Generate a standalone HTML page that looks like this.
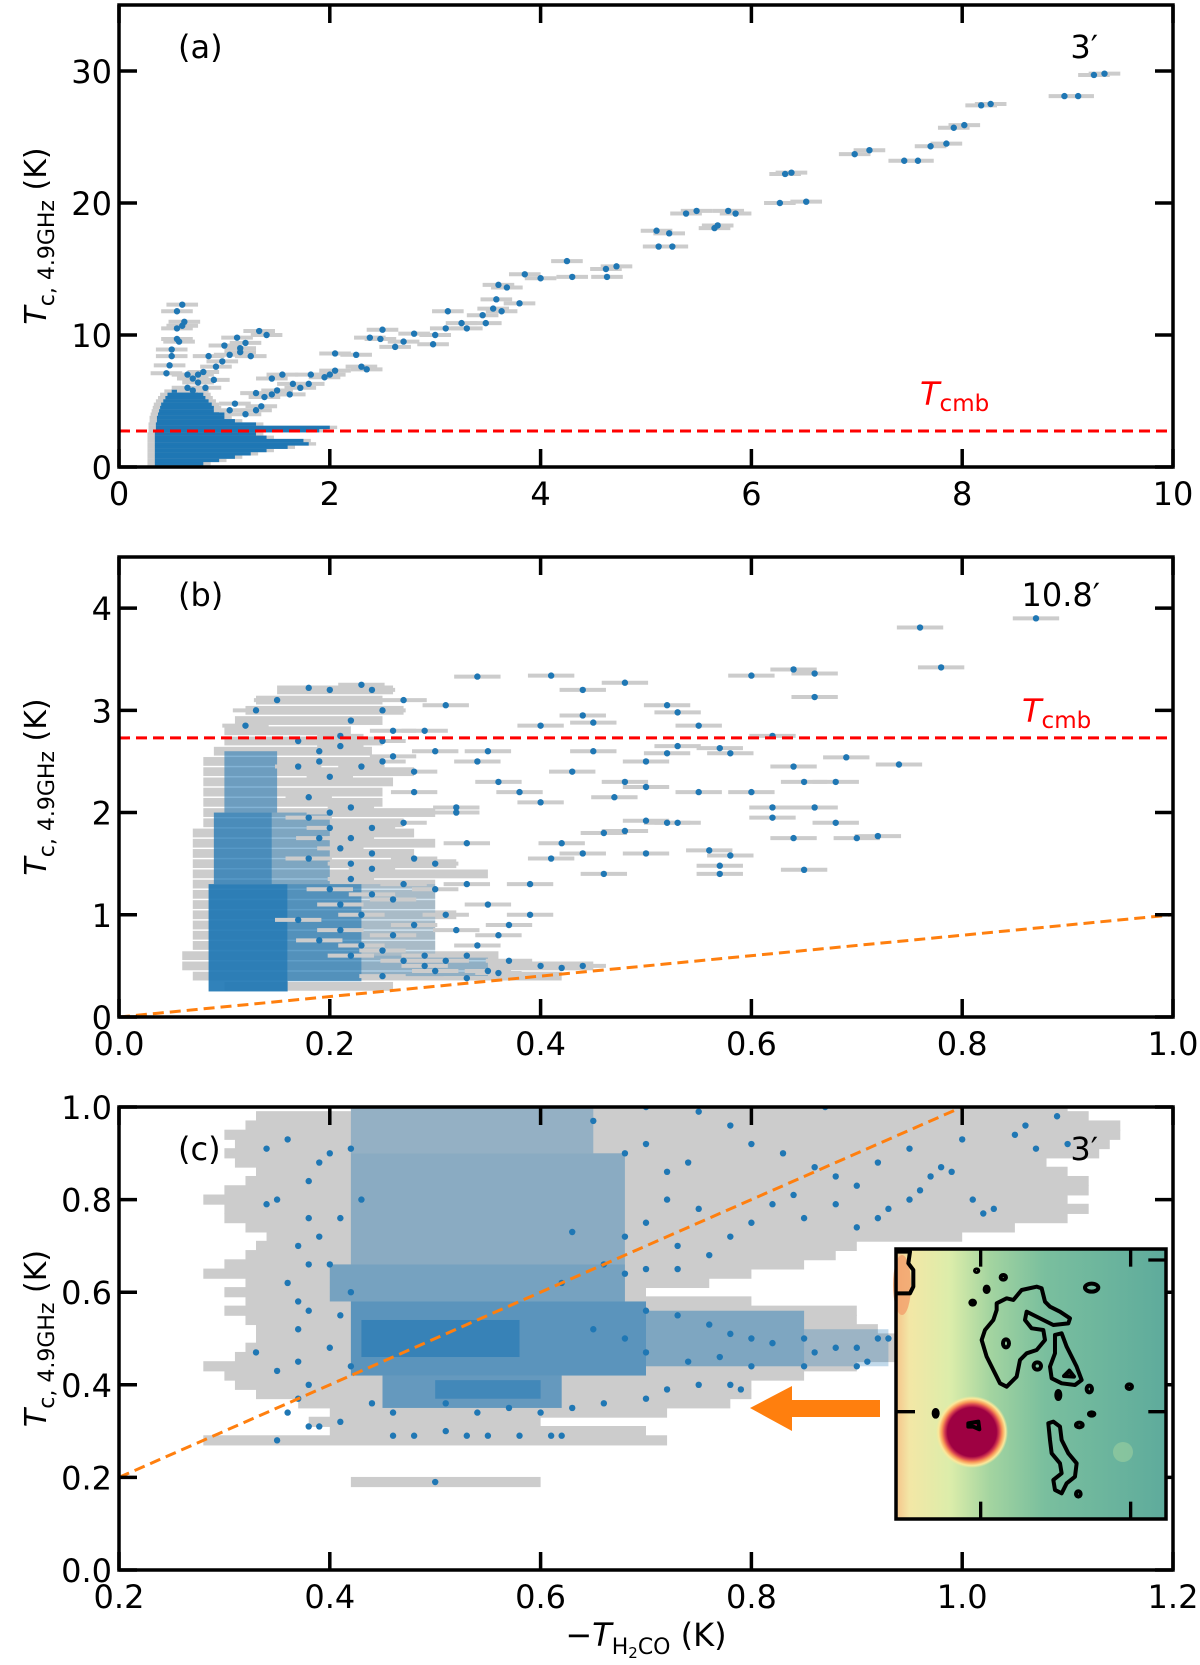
<!DOCTYPE html>
<html><head><meta charset="utf-8">
<style>
html,body{margin:0;padding:0;background:#fff;}
svg{display:block;font-family:"DejaVu Sans","Liberation Sans",sans-serif;}
</style></head>
<body>
<svg id="fig" width="1200" height="1665" viewBox="0 0 1200 1665" xmlns="http://www.w3.org/2000/svg">
<defs>
<linearGradient id="insetBg" x1="0" y1="0" x2="1" y2="0">
<stop offset="0" stop-color="#f4c48a"/><stop offset="0.05" stop-color="#f3e7a6"/><stop offset="0.2" stop-color="#dcedaa"/><stop offset="0.35" stop-color="#a3d4a0"/><stop offset="0.55" stop-color="#7abf9e"/><stop offset="1" stop-color="#5eab9c"/>
</linearGradient>
<radialGradient id="halo"><stop offset="0.68" stop-color="#9e0142"/><stop offset="0.76" stop-color="#d53e4f"/><stop offset="0.84" stop-color="#f99a57"/><stop offset="0.93" stop-color="#fbe89a"/><stop offset="1" stop-color="#fbe89a" stop-opacity="0"/></radialGradient>
</defs>
<g id="layer"></g>
</svg>
<script>
// ---- Panel (a) data ----
const aPointsX=[9.35,9.25,9.1,8.97,8.27,8.18,8.02,7.92,7.85,7.7,7.58,7.45,7.12,6.98,6.52,6.27,6.38,6.32,5.85,5.78,5.65,5.68,5.48,5.38,5.25,5.12,5.22,5.1,4.72,4.62,4.63,4.3,4.25,4.0,3.85,3.8,3.68,3.6,3.63,3.55,3.58,3.45,3.48,3.3,3.25,3.1,3.12,3.0,2.98,2.8,2.62,2.7,2.5,2.48,2.38,2.25,2.05,2.35,2.3,2.05,2.0,1.95,1.82,1.8,1.72,1.65,1.62,1.5,1.45,1.55,1.45,1.38,1.35,1.3,1.3,1.2,1.1,1.05,1.4,1.33,1.25,1.2,1.15,1.12,1.15,1.05,0.98,1.0,0.85,0.92,0.8,0.75,0.9,0.82,0.6,0.55,0.62,0.6,0.55,0.55,0.57,0.5,0.5,0.48,0.45,0.65,0.7,0.75,0.7,0.65];
const aPointsY=[29.8,29.7,28.1,28.1,27.5,27.4,25.9,25.7,24.5,24.3,23.2,23.2,24.0,23.7,20.1,20.0,22.3,22.2,19.2,19.4,18.1,18.3,19.4,19.2,16.7,16.7,17.7,17.9,15.2,15.0,14.4,14.4,15.6,14.3,14.6,12.4,13.6,13.8,11.8,12.0,12.7,11.5,10.9,10.5,10.9,10.5,11.8,10.0,9.3,10.1,9.1,9.5,10.4,9.7,9.8,8.5,8.6,7.4,7.6,7.3,7.0,6.8,7.0,6.3,6.0,6.3,5.5,5.8,5.5,7.0,6.7,5.3,4.6,5.6,4.3,4.0,4.8,4.3,10.0,10.3,8.4,9.4,9.0,9.8,8.7,8.5,8.0,9.2,8.4,7.6,7.2,7.0,6.6,6.0,12.3,11.8,11.0,10.7,10.5,9.7,9.5,8.9,8.4,7.7,7.1,7.0,6.7,6.4,5.8,6.0];
const aErr=0.15;
const aBandY=[0.25,0.5,0.75,1.0,1.25,1.5,1.75,2.0,2.25,2.5,2.75,3.0,3.25,3.5,3.75,4.0,4.25,4.5,4.75,5.0,5.25,5.5,5.75];
const aBandMin=[0.34,0.34,0.34,0.34,0.34,0.34,0.34,0.34,0.34,0.34,0.35,0.35,0.35,0.36,0.36,0.37,0.38,0.39,0.4,0.42,0.44,0.46,0.5];
const aBandMax=[0.8,0.95,1.1,1.25,1.4,1.6,1.8,1.75,1.4,1.3,1.9,2.0,1.3,1.1,1.0,1.0,0.95,0.9,0.88,0.85,0.82,0.8,0.75];
const aXTicks=[0,2,4,6,8,10], aYTicks=[0,10,20,30];
// ---- Panel (b) data ----
const bPointsX=[0.87,0.76,0.78,0.64,0.66,0.66,0.6,0.52,0.53,0.48,0.44,0.41,0.34,0.44,0.45,0.55,0.62,0.57,0.53,0.52,0.58,0.64,0.65,0.68,0.69,0.74,0.66,0.62,0.68,0.64,0.7,0.72,0.65,0.58,0.56,0.57,0.57,0.52,0.5,0.48,0.46,0.44,0.42,0.41,0.4,0.38,0.36,0.34,0.33,0.3,0.32,0.28,0.27,0.26,0.25,0.24,0.23,0.22,0.2,0.18,0.15,0.13,0.12,0.3,0.35,0.37,0.4,0.42,0.44,0.36,0.3,0.26,0.24,0.22,0.22,0.2,0.25,0.28,0.46,0.5,0.48,0.5,0.29,0.31,0.27,0.21,0.19,0.17,0.23,0.21,0.33,0.39,0.43,0.27,0.31,0.29,0.25,0.33,0.55,0.6,0.62,0.39,0.36,0.47,0.5,0.53,0.45,0.4,0.35,0.32,0.18,0.19,0.2,0.21,0.22,0.24,0.26,0.28,0.3,0.32,0.34,0.18,0.2,0.22,0.24,0.26,0.28,0.17,0.19,0.21,0.23,0.25,0.27,0.29,0.31,0.33,0.35,0.37,0.17,0.19,0.21,0.23,0.25,0.18,0.2,0.22,0.24];
const bPointsY=[3.9,3.81,3.42,3.4,3.36,3.13,3.34,3.05,2.98,3.27,3.2,3.34,3.33,2.95,2.88,2.85,2.75,2.63,2.65,2.58,2.58,2.45,2.3,2.3,2.54,2.47,2.05,1.95,1.9,1.75,1.75,1.77,1.44,1.58,1.63,1.48,1.4,1.9,1.92,1.82,1.8,1.6,1.7,1.55,2.1,2.2,2.3,2.5,1.3,1.5,2.0,2.4,1.9,2.8,3.0,3.2,3.25,2.9,3.2,3.22,3.1,3.0,2.85,2.6,1.1,0.9,0.5,0.48,0.5,0.43,0.45,0.8,1.2,1.5,0.6,2.0,2.5,0.9,1.4,1.6,2.3,2.5,2.8,3.05,3.1,2.65,2.5,2.7,1.0,1.1,1.7,1.3,2.4,1.3,1.0,0.6,0.4,0.38,2.2,2.2,2.05,1.0,0.8,2.15,2.25,1.9,2.6,2.85,2.6,2.05,1.55,1.75,1.25,1.65,1.35,1.45,1.15,1.55,1.25,0.85,0.7,2.15,2.35,2.05,1.85,2.55,2.2,0.95,0.75,0.85,0.7,0.65,0.55,0.5,0.55,0.6,0.45,0.55,2.45,2.6,2.75,2.45,2.7,1.95,1.85,1.75,1.6];
const bErr=0.022;
const bGrayY=[0.3,0.4,0.5,0.6,0.7,0.8,0.9,1.0,1.1,1.2,1.3,1.4,1.5,1.6,1.7,1.8,1.9,2.0,2.1,2.2,2.3,2.4,2.5,2.6,2.7,2.8,2.9,3.0,3.1,3.2];
const bGrayMin=[0.1,0.07,0.06,0.06,0.07,0.07,0.07,0.07,0.07,0.07,0.07,0.07,0.07,0.07,0.07,0.07,0.08,0.08,0.08,0.08,0.08,0.08,0.08,0.09,0.1,0.1,0.11,0.12,0.13,0.15];
const bGrayMax=[0.26,0.42,0.45,0.36,0.3,0.3,0.3,0.32,0.3,0.3,0.3,0.35,0.32,0.28,0.3,0.28,0.27,0.3,0.25,0.25,0.26,0.28,0.25,0.24,0.25,0.22,0.25,0.27,0.25,0.26];
const bDenseY0=[0.25,1.3,2.0,0.35,0.4,1.3,0.6];
const bDenseY1=[1.3,2.0,2.6,1.3,0.6,2.0,1.3];
const bDenseX0=[0.085,0.09,0.1,0.16,0.23,0.145,0.23];
const bDenseX1=[0.16,0.145,0.15,0.23,0.35,0.2,0.3];
const bDenseOp=[0.92,0.75,0.55,0.7,0.35,0.45,0.2];
const bXTicks=[0,0.2,0.4,0.6,0.8,1.0], bYTicks=[0,1,2,3,4];
// ---- Panel (c) data ----
const cGrayY=[1.0,0.98,0.96,0.94,0.92,0.9,0.88,0.86,0.84,0.82,0.8,0.78,0.76,0.74,0.72,0.7,0.68,0.66,0.64,0.62,0.6,0.58,0.56,0.54,0.52,0.5,0.48,0.46,0.44,0.42,0.4,0.38,0.36,0.34,0.32,0.3,0.28,0.19];
const cGrayMin=[0.42,0.33,0.32,0.3,0.31,0.3,0.31,0.33,0.32,0.3,0.28,0.3,0.3,0.32,0.34,0.33,0.32,0.3,0.28,0.32,0.3,0.32,0.3,0.32,0.33,0.33,0.32,0.31,0.28,0.3,0.31,0.33,0.37,0.4,0.38,0.4,0.28,0.42];
const cGrayMax=[1.1,1.12,1.15,1.15,1.14,1.13,1.08,1.1,1.12,1.12,1.1,1.12,1.1,1.05,1.0,0.9,0.88,0.85,0.8,0.76,0.7,0.8,0.9,0.9,0.92,0.95,0.95,0.95,0.9,0.85,0.8,0.8,0.78,0.72,0.6,0.7,0.72,0.6];
const cDenseY0=[0.35,0.42,0.46,0.44,0.44,0.58,0.66,0.9,0.37];
const cDenseY1=[0.42,0.58,0.54,0.56,0.52,0.66,0.9,1.0,0.41];
const cDenseX0=[0.45,0.42,0.43,0.7,0.85,0.4,0.42,0.42,0.5];
const cDenseX1=[0.62,0.7,0.58,0.85,0.93,0.68,0.68,0.65,0.6];
const cDenseOp=[0.6,0.65,0.6,0.45,0.28,0.5,0.38,0.32,0.5];
const cPointsX=[0.5,0.35,0.46,0.48,0.51,0.53,0.55,0.58,0.61,0.62,0.38,0.39,0.41,0.36,0.37,0.38,0.37,0.35,0.33,0.37,0.38,0.37,0.36,0.38,0.37,0.39,0.38,0.34,0.35,0.38,0.39,0.34,0.36,0.4,0.42,0.43,0.41,0.4,0.42,0.41,0.4,0.42,0.44,0.46,0.65,0.68,0.7,0.72,0.74,0.75,0.72,0.7,0.68,0.73,0.76,0.78,0.8,0.82,0.84,0.86,0.88,0.9,0.88,0.85,0.9,0.93,0.95,0.96,0.97,0.98,0.95,0.92,1.0,1.02,1.03,1.05,1.06,1.09,1.1,1.07,0.99,1.01,0.83,0.8,0.78,0.75,0.7,0.87,0.92,0.63,0.66,0.7,0.73,0.68,0.62,0.7,0.73,0.76,0.78,0.8,0.82,0.85,0.86,0.88,0.9,0.92,0.93,0.9,0.91,0.85,0.8,0.78,0.79,0.75,0.72,0.7,0.66,0.63,0.6,0.57,0.54,0.51,0.65,0.68,0.7,0.74,0.77];
const cPointsY=[0.19,0.28,0.29,0.29,0.3,0.29,0.29,0.29,0.29,0.29,0.31,0.31,0.32,0.34,0.37,0.4,0.45,0.43,0.47,0.52,0.56,0.58,0.62,0.66,0.7,0.72,0.76,0.79,0.8,0.84,0.88,0.91,0.93,0.9,0.91,0.8,0.76,0.66,0.6,0.55,0.48,0.44,0.36,0.34,0.97,0.9,0.92,0.86,0.88,0.78,0.8,0.75,0.72,0.7,0.68,0.72,0.75,0.79,0.81,0.87,0.85,0.83,0.79,0.76,0.74,0.78,0.8,0.82,0.85,0.87,0.91,0.88,0.93,0.77,0.78,0.94,0.96,0.98,0.92,0.91,0.86,0.8,0.9,0.92,0.96,0.99,1.0,1.0,0.76,0.73,0.66,0.65,0.65,0.64,0.62,0.56,0.55,0.53,0.51,0.5,0.49,0.5,0.47,0.48,0.48,0.5,0.5,0.44,0.45,0.44,0.44,0.4,0.39,0.4,0.39,0.37,0.36,0.35,0.34,0.35,0.34,0.36,0.52,0.5,0.47,0.45,0.46];
const cXTicks=[0.2,0.4,0.6,0.8,1.0,1.2], cYTicks=[0.0,0.2,0.4,0.6,0.8,1.0];

const NS="http://www.w3.org/2000/svg";
const layer=document.getElementById('layer');
function mk(tag,attrs,parent){const e=document.createElementNS(NS,tag);for(const k in attrs)e.setAttribute(k,attrs[k]);(parent||layer).appendChild(e);return e;}
const L=119,R=1173;
function scales(xmin,xmax,ymin,ymax,top,bot){return{x:v=>L+(v-xmin)/(xmax-xmin)*(R-L),y:v=>bot-(v-ymin)/(ymax-ymin)*(bot-top),top:top,bot:bot};}
const A=scales(0,10,0,35,5,467), B=scales(0,1,0,4.5,557,1017), C=scales(0.2,1.2,0,1,1107,1570);

function clip(id,s){const cp=mk('clipPath',{id:id},document.querySelector('defs'));mk('rect',{x:L,y:s.top,width:R-L,height:s.bot-s.top},cp);}
clip('ca',A);clip('cb',B);clip('cc',C);

function points(s,xs,ys,err,clipId,prefix){
  const g=mk('g',{'clip-path':'url(#'+clipId+')'});
  
  
  if(err>0){for(let i=0;i<xs.length;i++){
    const eb=mk('line',{x1:s.x(xs[i]-err),x2:s.x(xs[i]+err),y1:s.y(ys[i]),y2:s.y(ys[i]),stroke:'#cccccc','stroke-width':4},g);
    
    
  }}
  for(let i=0;i<xs.length;i++){
    const p=mk('circle',{cx:s.x(xs[i]),cy:s.y(ys[i]),r:3.2,fill:'#1f77b4'},g);
    
    
  }
}
function bandsA(s,ys,mins,maxs,dy,err,clipId,prefix){
  const g=mk('g',{'clip-path':'url(#'+clipId+')'});
  
  
  for(let i=0;i<ys.length;i++){
    const y0=s.y(ys[i]+dy/2),y1=s.y(ys[i]-dy/2);
    const r=mk('rect',{x:s.x(mins[i]-err),y:y0,width:s.x(maxs[i]+err)-s.x(mins[i]-err),height:y1-y0,fill:'#cccccc'},g);
    
    
  }
  for(let i=0;i<ys.length;i++){
    const y0=s.y(ys[i]+dy/2),y1=s.y(ys[i]-dy/2);
    const r=mk('rect',{x:s.x(mins[i]),y:y0,width:s.x(maxs[i])-s.x(mins[i]),height:y1-y0,fill:'#1f77b4'},g);
    
    
  }
}
function grayBands(s,ys,mins,maxs,half,clipId,prefix){
  const g=mk('g',{'clip-path':'url(#'+clipId+')'});
  
  
  for(let i=0;i<ys.length;i++){
    const y0=s.y(ys[i]+half),y1=s.y(ys[i]-half);
    const r=mk('rect',{x:s.x(mins[i]),y:y0,width:s.x(maxs[i])-s.x(mins[i]),height:y1-y0,fill:'#cccccc'},g);
    
    
  }
}
function denseRects(s,y0s,y1s,x0s,x1s,ops,clipId,prefix){
  const g=mk('g',{'clip-path':'url(#'+clipId+')'});
  
  
  for(let i=0;i<y0s.length;i++){
    const r=mk('rect',{x:s.x(x0s[i]),y:s.y(y1s[i]),width:s.x(x1s[i])-s.x(x0s[i]),height:s.y(y0s[i])-s.y(y1s[i]),fill:'#1f77b4','fill-opacity':ops[i]},g);
    
    
  }
}
function text(x,y,str,attrs,name){const t=mk('text',Object.assign({x:x,y:y},attrs||{}));t.textContent=str;return t;}
function axes(s,xt,yt,fmtx,fmty,prefix){
  const g=mk('g',{});
  
  
  xt.forEach(v=>{const X=s.x(v);
    mk('line',{x1:X,x2:X,y1:s.bot,y2:s.bot-18,stroke:'#000','stroke-width':3.5},g);
    mk('line',{x1:X,x2:X,y1:s.top,y2:s.top+18,stroke:'#000','stroke-width':3.5},g);
    text(X,s.bot+38,fmtx(v),{'font-size':32,'text-anchor':'middle'},prefix+'-x-tick-label');});
  yt.forEach(v=>{const Y=s.y(v);
    mk('line',{x1:L,x2:L+18,y1:Y,y2:Y,stroke:'#000','stroke-width':3.5},g);
    mk('line',{x1:R,x2:R-18,y1:Y,y2:Y,stroke:'#000','stroke-width':3.5},g);
    text(L-7,Y+12,fmty(v),{'font-size':32,'text-anchor':'end'},prefix+'-y-tick-label');});
  const fr=mk('rect',{x:L,y:s.top,width:R-L,height:s.bot-s.top,fill:'none',stroke:'#000','stroke-width':3.5},g);
  
  
  const cy=(s.top+s.bot)/2;
  const t=mk('text',{x:0,y:0,transform:'translate(46,'+cy+') rotate(-90)','text-anchor':'middle','font-size':30});
  
  
  t.innerHTML='<tspan font-style="italic">T</tspan><tspan font-size="22" dy="8">c, 4.9GHz</tspan><tspan dy="-8"> (K)</tspan>';
}
function hline(s,yv,color,name,clipId){const l=mk('line',{x1:L,x2:R,y1:s.y(yv),y2:s.y(yv),stroke:color,'stroke-width':3,'stroke-dasharray':'11,6','clip-path':'url(#'+clipId+')'});}
function oline(s,x0,y0,x1,y1,name,clipId){const l=mk('line',{x1:s.x(x0),y1:s.y(y0),x2:s.x(x1),y2:s.y(y1),stroke:'#ff7f0e','stroke-width':3,'stroke-dasharray':'11,6','clip-path':'url(#'+clipId+')'});}

// Panel a
bandsA(A,aBandY,aBandMin,aBandMax,0.26,0.07,'ca','panel-a');
points(A,aPointsX,aPointsY,aErr,'ca','panel-a');
hline(A,2.73,'#ff0000','tcmb-line-a','ca');
axes(A,aXTicks,aYTicks,v=>String(v),v=>String(v),'panel-a');
text(178,58,'(a)',{'font-size':32},'panel-a-label');
text(1098,58,'3′',{'font-size':32,'text-anchor':'end'},'panel-a-beam-size');
const ta=text(920,405,'',{'font-size':32,fill:'#ff0000'},'tcmb-label-a');ta.innerHTML='<tspan font-style="italic">T</tspan><tspan font-size="23" dy="6">cmb</tspan>';

// Panel b
grayBands(B,bGrayY,bGrayMin,bGrayMax,0.043,'cb','panel-b');
denseRects(B,bDenseY0,bDenseY1,bDenseX0,bDenseX1,bDenseOp,'cb','panel-b');
points(B,bPointsX,bPointsY,bErr,'cb','panel-b');
hline(B,2.73,'#ff0000','tcmb-line-b','cb');
oline(B,0,0,1,1,'ratio-line-b','cb');
axes(B,bXTicks,bYTicks,v=>v.toFixed(1),v=>String(v),'panel-b');
text(178,606,'(b)',{'font-size':32},'panel-b-label');
text(1100,606,'10.8′',{'font-size':32,'text-anchor':'end'},'panel-b-beam-size');
const tb=text(1022,722,'',{'font-size':32,fill:'#ff0000'},'tcmb-label-b');tb.innerHTML='<tspan font-style="italic">T</tspan><tspan font-size="23" dy="6">cmb</tspan>';

// Panel c
grayBands(C,cGrayY,cGrayMin,cGrayMax,0.011,'cc','panel-c');
denseRects(C,cDenseY0,cDenseY1,cDenseX0,cDenseX1,cDenseOp,'cc','panel-c');
points(C,cPointsX,cPointsY,0,'cc','panel-c');
oline(C,0.2,0.2,1.2,1.2,'ratio-line-c','cc');
axes(C,cXTicks,cYTicks,v=>v.toFixed(1),v=>v.toFixed(1),'panel-c');
text(178,1160,'(c)',{'font-size':32},'panel-c-label');
text(1098,1160,'3′',{'font-size':32,'text-anchor':'end'},'panel-c-beam-size');
const xt=text(646,1646,'',{'font-size':32,'text-anchor':'middle'},'x-axis-title');
xt.innerHTML='−<tspan font-style="italic">T</tspan><tspan font-size="22" dy="8">H</tspan><tspan font-size="15" dy="4">2</tspan><tspan font-size="22" dy="-4">CO</tspan><tspan dy="-8"> (K)</tspan>';

// arrow
const arr=mk('polygon',{points:'750,1408 792,1386 792,1400 880,1400 880,1417 792,1417 792,1431',fill:'#ff7f0e'});



// inset
const ins=mk('g',{});


mk('rect',{x:896,y:1249,width:270,height:270,fill:'url(#insetBg)'},ins);
mk('ellipse',{cx:902,cy:1285,rx:9,ry:30,fill:'#f2a36e','opacity':0.85},ins);
mk('ellipse',{cx:1123,cy:1452,rx:10,ry:10,fill:'#a6d5a0','opacity':0.5},ins);
mk('circle',{cx:972,cy:1432,r:36,fill:'url(#halo)'},ins);
const cg=mk('g',{transform:'translate(880,1240) scale(0.3333)',fill:'none',stroke:'#000','stroke-width':12,'stroke-linejoin':'round'},ins);


['M350,190 L380,175 400,180 425,150 470,140 485,145 495,185 510,200 540,215 570,235 565,250 520,255 490,240 460,225 440,215 435,240 455,265 490,270 495,300 470,330 440,340 420,360 410,410 380,440 360,430 340,390 320,350 305,300 315,270 340,240 350,210 Z',
 'M525,285 L545,280 560,320 590,380 605,420 585,435 545,430 515,415 510,380 525,340 Z',
 'M552,408 L568,392 582,410 Z',
 'M505,550 L520,545 540,560 545,600 565,640 590,670 585,710 560,730 545,760 525,750 520,720 545,700 540,670 515,640 510,600 Z',
 'M50,35 L90,35 85,70 100,90 100,140 90,160 50,160',
 'M265,550 L295,545 298,568 280,560 265,560 Z'].forEach(d=>mk('path',{d:d},cg));
[[370,112,8,7],[320,148,6,8],[290,92,5,4],[278,188,7,6],[378,310,9,12],[472,378,11,11],[635,143,20,12],[628,447,8,10],[748,440,8,7],[535,465,6,12],[635,522,8,5],[598,555,10,7],[167,520,6,10],[595,762,7,8]].forEach(e=>mk('ellipse',{cx:e[0],cy:e[1],rx:e[2],ry:e[3]},cg));
const tg=mk('g',{transform:'translate(880,1240) scale(0.3333)',stroke:'#000','stroke-width':10},ins);
[[302,30,302,80],[752,30,752,80],[302,838,302,785],[752,838,752,785],[48,515,105,515],[858,515,805,515],[858,60,805,60]].forEach(t=>mk('line',{x1:t[0],y1:t[1],x2:t[2],y2:t[3]},tg));
mk('rect',{x:896,y:1249,width:270,height:270,fill:'none',stroke:'#000','stroke-width':3.5},ins);
</script>
</body></html>
